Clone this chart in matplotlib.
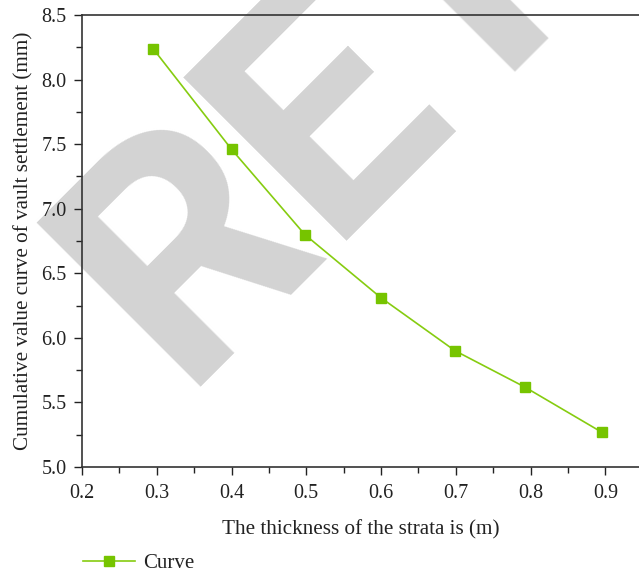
import matplotlib
matplotlib.use("Agg")
import matplotlib.pyplot as plt
from matplotlib.ticker import MultipleLocator

# values
thickness = [0.295, 0.40, 0.498, 0.60, 0.699, 0.792, 0.895]
settlement = [8.24, 7.46, 6.80, 6.31, 5.90, 5.62, 5.27]
series_name = "Curve"
x_label = "The thickness of the strata is (m)"
y_label = "Cumulative value curve of vault settlement (mm)"
watermark = "RETRACTED"

plt.rcParams["font.family"] = ["Liberation Serif", "DejaVu Serif"]

W, H = 639, 573
fig = plt.figure(figsize=(W / 100, H / 100), dpi=100)
ax = fig.add_axes([82 / W, 1 - 467 / H, 1 - 82 / W, (467 - 15) / H])

# big grey watermark, behind everything else (runs off the page as in the source)
ax.text(180 / W, 1 - 387 / H, watermark, transform=fig.transFigure,
        fontsize=234, family="Roboto", fontweight="bold",
        color="#d3d3d3", rotation=45, rotation_mode="anchor",
        ha="left", va="baseline", clip_on=False, zorder=0.5)

ax.plot(thickness, settlement, color="#86cc10", lw=1.2,
        marker="s", ms=7, mfc="#76c400", mec="#76c400", label=series_name,
        zorder=3)

ax.set_xlim(0.2, 0.945)
ax.set_ylim(5.0, 8.5)
ax.xaxis.set_minor_locator(MultipleLocator(0.05))
ax.yaxis.set_major_locator(MultipleLocator(0.5))
ax.yaxis.set_minor_locator(MultipleLocator(0.25))
ax.set_xticks([0.2, 0.3, 0.4, 0.5, 0.6, 0.7, 0.8, 0.9])
ax.tick_params(which="both", direction="out", colors="#222222",
               labelsize=14.5, width=1)
ax.tick_params(which="major", length=6)
ax.tick_params(which="minor", length=4.5)
ax.tick_params(axis="x", pad=6.5)
ax.tick_params(axis="y", pad=5)
ax.spines["right"].set_visible(False)
for s in ("left", "bottom", "top"):
    ax.spines[s].set_color("#333333")
    ax.spines[s].set_linewidth(1.2)
ax.patch.set_alpha(0)

ax.set_xlabel(x_label, fontsize=15.2, color="#222222", labelpad=12)
ax.set_ylabel(y_label, fontsize=15.2, color="#222222", labelpad=6)

fig.legend(loc="center left", bbox_to_anchor=(83 / W, 1 - 563 / H),
           frameon=False, fontsize=15, handlelength=2.5, handletextpad=0.4,
           borderpad=0, borderaxespad=0, labelcolor="#222222")

fig.savefig("out.png", dpi=100)
